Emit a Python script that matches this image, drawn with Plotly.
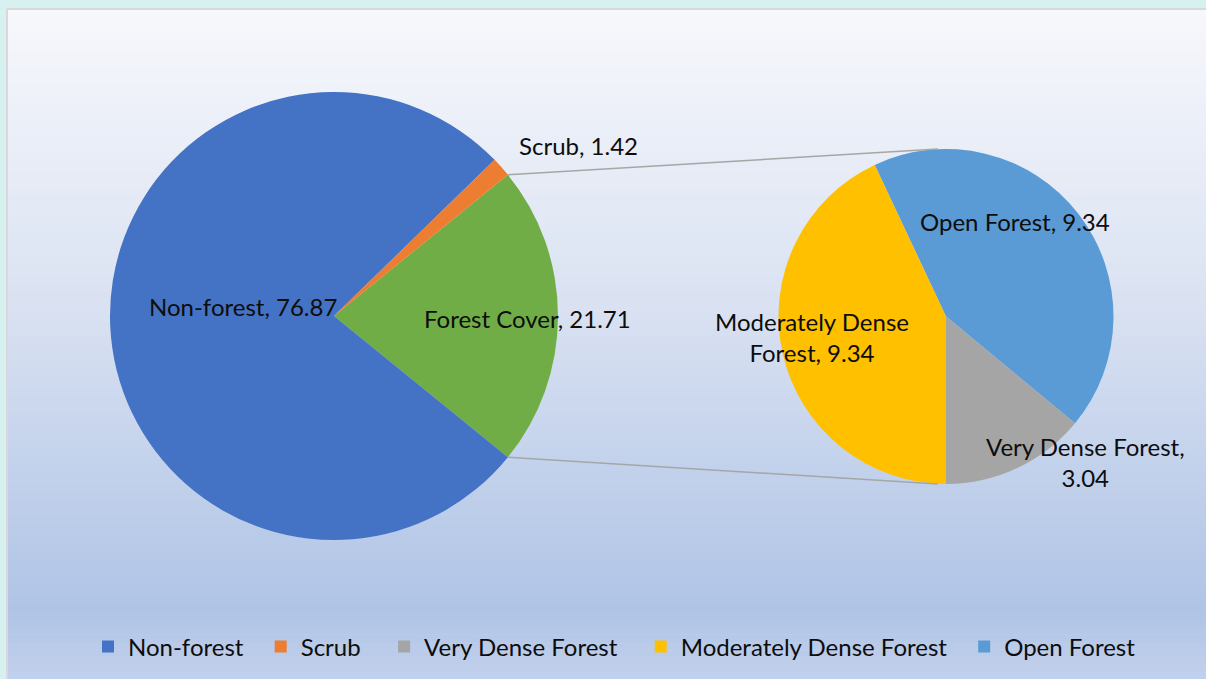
import math
import plotly.graph_objects as go

W, H = 1206, 679

# main pie
main_labels = ["Forest Cover", "Non-forest", "Scrub"]
main_values = [21.71, 76.87, 1.42]
main_colors = ["#70ad47", "#4472c4", "#ed7d31"]

# breakdown of forest cover
sub_labels = ["Open Forest", "Very Dense Forest", "Moderately Dense Forest"]
sub_values = [9.34, 3.04, 9.34]
sub_colors = ["#5b9bd5", "#a5a5a5", "#ffc000"]

legend_labels = ["Non-forest", "Scrub", "Very Dense Forest", "Moderately Dense Forest", "Open Forest"]
legend_colors = ["#4472c4", "#ed7d31", "#a5a5a5", "#ffc000", "#5b9bd5"]
legend_pad = [2, 3, 3, 2, 0]  # extra spacing after each legend entry

FONT = "Lato"
FS = 24


def px(x):
    return x / W


def py(y):
    return 1 - y / H


# pie geometry in pixels
big_c, big_r = (334, 316), 224
small_c, small_r = (946, 316.5), 167.5

fc_span = main_values[0] / sum(main_values) * 360
big_rot = 90 - fc_span / 2
sub_total = sum(sub_values)
small_rot = 180 - (sub_values[0] + sub_values[1]) / sub_total * 360


def dom(c, r):
    return dict(x=[px(c[0] - r), px(c[0] + r)], y=[py(c[1] + r), py(c[1] - r)])


fig = go.Figure()

fig.add_trace(go.Pie(
    labels=main_labels, values=main_values, sort=False, direction="clockwise",
    rotation=big_rot, domain=dom(big_c, big_r), textinfo="none",
    marker=dict(colors=main_colors, line=dict(width=0)), showlegend=False,
    hoverinfo="label+value",
))
fig.add_trace(go.Pie(
    labels=sub_labels, values=sub_values, sort=False, direction="clockwise",
    rotation=small_rot, domain=dom(small_c, small_r), textinfo="none",
    marker=dict(colors=sub_colors, line=dict(width=0)), showlegend=False,
    hoverinfo="label+value",
))

# legend entries
for lab, col, pad in zip(legend_labels, legend_colors, legend_pad):
    fig.add_trace(go.Scatter(
        x=[None], y=[None], mode="markers", name=lab + "\u00a0" * pad,
        marker=dict(symbol="square", size=14, color=col),
    ))

# background gradient (top light -> blue-ish bottom)
stops = [(9, (247, 248, 252)), (300, (218, 226, 242)), (610, (176, 196, 230)), (679, (194, 209, 236))]


def grad(y):
    for (y0, c0), (y1, c1) in zip(stops[:-1], stops[1:]):
        if y0 <= y <= y1:
            t = (y - y0) / (y1 - y0)
            return "rgb(%d,%d,%d)" % tuple(round(a + (b - a) * t) for a, b in zip(c0, c1))
    return "rgb(%d,%d,%d)" % stops[-1][1]


shapes = []
n = 90
y0 = 9
step = (H - y0) / n
for i in range(n):
    ya = y0 + i * step
    shapes.append(dict(type="rect", xref="paper", yref="paper", layer="below",
                       x0=px(7), x1=1, y0=py(ya + step + 0.5), y1=py(ya),
                       fillcolor=grad(ya + step / 2), line=dict(width=0)))
shapes.append(dict(type="line", xref="paper", yref="paper", layer="below",
                   x0=px(7), x1=1, y0=py(9), y1=py(9), line=dict(color="#d9d9d9", width=2)))
shapes.append(dict(type="line", xref="paper", yref="paper", layer="below",
                   x0=px(7), x1=px(7), y0=py(9), y1=0, line=dict(color="#d9d9d9", width=2)))

# connector lines from forest cover edges to sub pie
a = math.radians(fc_span / 2)
ex = big_c[0] + big_r * math.cos(a)
for sgn in (-1, 1):
    ey = big_c[1] + sgn * big_r * math.sin(a)
    ty = small_c[1] + sgn * small_r
    shapes.append(dict(type="line", xref="paper", yref="paper",
                       x0=px(ex), y0=py(ey), x1=px(small_c[0] - 8), y1=py(ty),
                       line=dict(color="#a6a6a6", width=1.5)))

# data labels
label_pos = {
    "Non-forest": (243, 307),
    "Forest Cover": (527, 318),
    "Scrub": (578, 145),
    "Open Forest": (1015, 222),
    "Moderately Dense Forest": (812, 337),
    "Very Dense Forest": (1085, 462),
}
label_text = {
    "Moderately Dense Forest": "Moderately Dense<br>Forest, %s",
    "Very Dense Forest": "Very Dense Forest,<br>%s",
}
annotations = []
for lab, val in list(zip(main_labels, main_values)) + list(zip(sub_labels, sub_values)):
    txt = label_text.get(lab, lab + ", %s") % f"{val:.2f}"
    x, y = label_pos[lab]
    annotations.append(dict(text=txt, x=px(x), y=py(y), xref="paper", yref="paper",
                            showarrow=False, xanchor="center", yanchor="middle",
                            font=dict(family=FONT, size=FS, color="#0d0d0d")))

fig.update_layout(
    width=W, height=H,
    margin=dict(l=0, r=0, t=0, b=0),
    paper_bgcolor="#d7f0f0",
    plot_bgcolor="rgba(0,0,0,0)",
    xaxis=dict(visible=False),
    yaxis=dict(visible=False),
    shapes=shapes,
    annotations=annotations,
    showlegend=True,
    legend=dict(orientation="h", x=px(88), xanchor="left", y=py(647), yanchor="middle",
                bgcolor="rgba(0,0,0,0)", font=dict(family=FONT, size=FS, color="#0d0d0d"),
                itemsizing="constant", tracegroupgap=0),
)

fig.write_html("out.html", config={"displayModeBar": False},
               post_script="document.body.style.margin='0';document.body.style.overflow='hidden';")
